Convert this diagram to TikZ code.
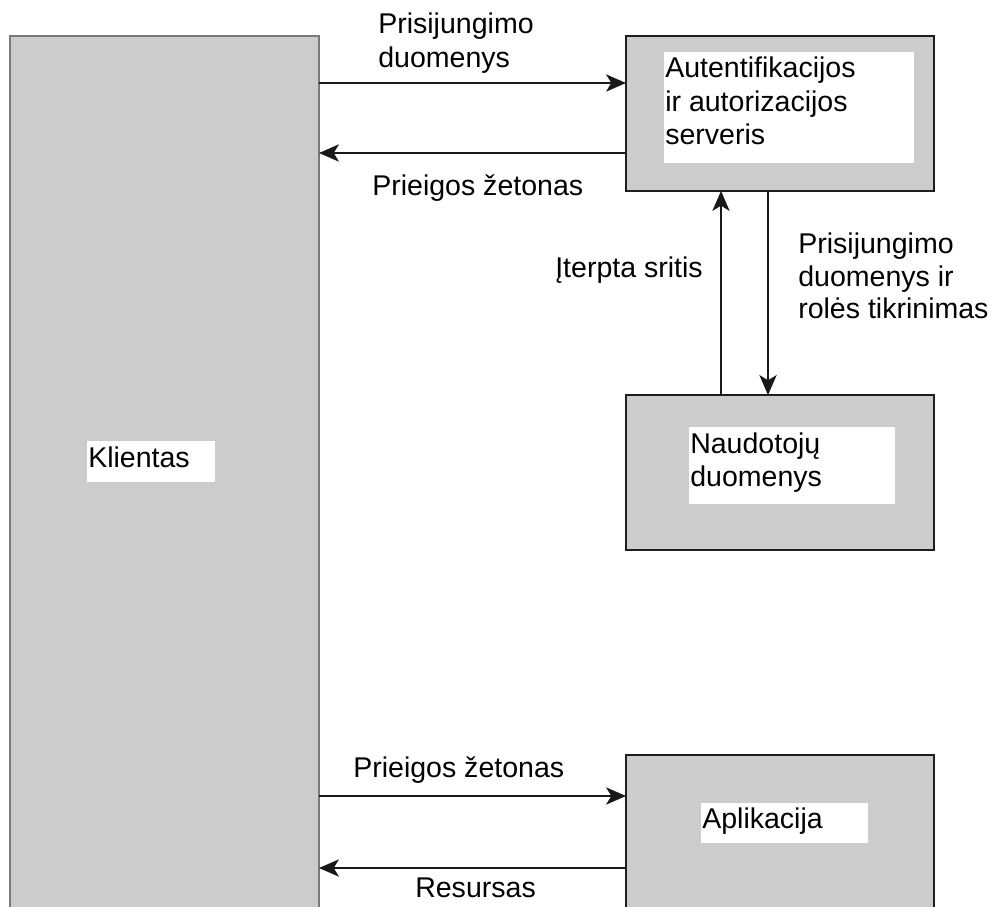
\documentclass[tikz,border=0pt]{standalone}
\usepackage{fontspec}
\setmainfont{Liberation Sans}
\usetikzlibrary{arrows.meta}
\definecolor{boxgray}{HTML}{CCCCCC}
\definecolor{edgegray}{HTML}{7A7A7A}
\definecolor{edgedark}{HTML}{1E1E1E}
\begin{document}
\begin{tikzpicture}[x=0.75pt,y=-0.75pt,
  sysbox/.style={draw=edgedark,line width=1.5pt,fill=boxgray,anchor=north west,inner sep=0pt,outer sep=0pt},
  clientbox/.style={draw=edgegray,line width=1.5pt,fill=boxgray,anchor=north west,inner sep=0pt,outer sep=0pt},
  labelbg/.style={fill=white,draw=none,anchor=north west,inner sep=0pt},
  txt/.style={anchor=base west,inner sep=0pt,font=\fontsize{21.4pt}{25pt}\selectfont},
  flow/.style={line width=1.1pt,draw=black!90,-{Stealth[length=15pt,width=13pt,inset=4pt]}}]
\useasboundingbox (0,0) rectangle (994,906);
\begin{scope}
\clip (0,0) rectangle (994,906);
% boxes (sizes given in 0.75pt units)
\node[clientbox,minimum width=309*0.75pt,minimum height=900*0.75pt] (kl) at (10,36) {};
\node[sysbox,minimum width=308*0.75pt,minimum height=155*0.75pt] (auth) at (626,36) {};
\node[sysbox,minimum width=308*0.75pt,minimum height=155*0.75pt] (users) at (626,395) {};
\node[sysbox,minimum width=308*0.75pt,minimum height=200*0.75pt] (app) at (626,755) {};
\end{scope}
% white label panels
\node[labelbg,minimum width=128*0.75pt,minimum height=41*0.75pt] (klbg) at (87,441) {};
\node[labelbg,minimum width=250*0.75pt,minimum height=111*0.75pt] (authbg) at (664,52) {};
\node[labelbg,minimum width=206*0.75pt,minimum height=77*0.75pt] (usersbg) at (689,427) {};
\node[labelbg,minimum width=167*0.75pt,minimum height=40*0.75pt] (appbg) at (701,803) {};
% box texts
\node[txt] (kltxt) at (88,467) {Klientas};
\node[txt] (auth1) at (665,78) {Autentifikacijos};
\node[txt] (auth2) at (665,111) {ir autorizacijos};
\node[txt] (auth3) at (665,144) {serveris};
\node[txt] (users1) at (690,453) {Naudotojų};
\node[txt] (users2) at (690,486) {duomenys};
\node[txt] (apptxt) at (702,828) {Aplikacija};
% connector levels
\coordinate (r1) at (0,83);
\coordinate (r2) at (0,153);
\coordinate (r3) at (0,796);
\coordinate (r4) at (0,868);
\coordinate (c1) at (721,0);
\coordinate (c2) at (768,0);
% connectors
\draw[flow] (kl.east |- r1) -- (auth.west |- r1);
\draw[flow] (auth.west |- r2) -- (kl.east |- r2);
\draw[flow] (users.north -| c1) -- (auth.south -| c1);
\draw[flow] (auth.south -| c2) -- (users.north -| c2);
\draw[flow] (kl.east |- r3) -- (app.west |- r3);
\draw[flow] (app.west |- r4) -- (kl.east |- r4);
% connector labels
\node[txt] (l1a) at (378,34) {Prisijungimo};
\node[txt] (l1b) at (378,67) {duomenys};
\node[txt] (l2) at (372,195) {Prieigos žetonas};
\node[txt] (l3) at (555,277) {Įterpta sritis};
\node[txt] (l4a) at (798,253) {Prisijungimo};
\node[txt] (l4b) at (798,286) {duomenys ir};
\node[txt] (l4c) at (798,318) {rolės tikrinimas};
\node[txt] (l5) at (353,777) {Prieigos žetonas};
\node[txt] (l6) at (415,897) {Resursas};
\end{tikzpicture}
\end{document}
